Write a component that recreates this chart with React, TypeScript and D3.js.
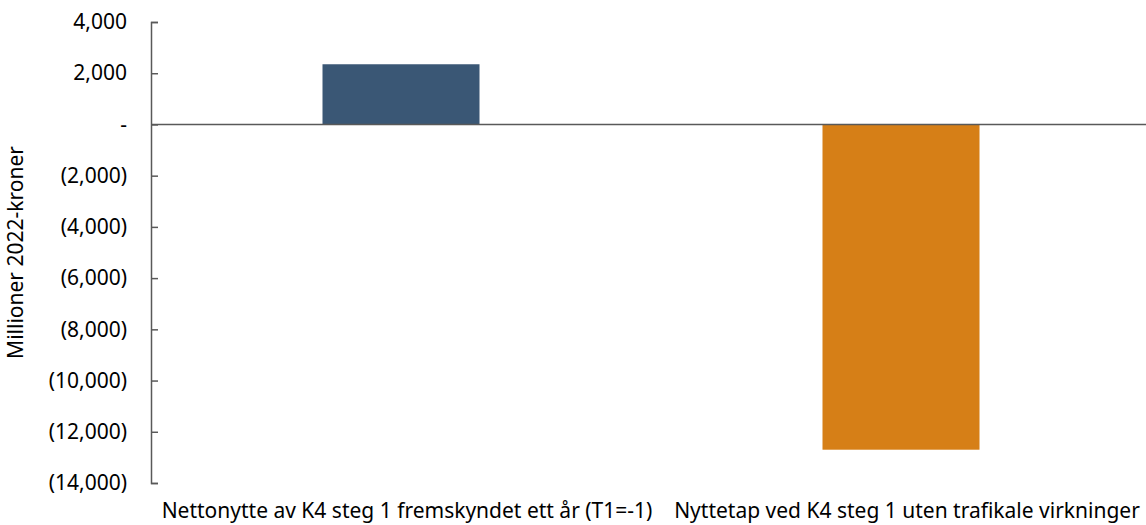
import React, { useRef, useEffect } from "react";
import * as d3 from "d3";

const categories = [
  "Nettonytte av K4 steg 1 fremskyndet ett år (T1=-1)",
  "Nyttetap ved K4 steg 1 uten trafikale virkninger",
];
const values = [2350, -12700];
const barColors = ["#3A5775", "#D67F17"];
const yTicks = [4000, 2000, 0, -2000, -4000, -6000, -8000, -10000, -12000, -14000];
const yLabel = "Millioner 2022-kroner";

const fmt = (v: number) => {
  if (v === 0) return "-";
  const s = d3.format(",")(Math.abs(v));
  return v < 0 ? `(${s})` : s;
};

const App = () => {
  const svgRef = useRef<SVGSVGElement>(null);

  useEffect(() => {
    const svg = d3.select(svgRef.current);
    svg.selectAll("*").remove();

    const width = 1146;
    const height = 525;
    const font = "'Noto Sans', 'Open Sans', sans-serif";
    const axisColor = "#595959";

    const x = d3
      .scaleBand()
      .domain(categories)
      .range([151, 1151])
      .paddingInner(0.686)
      .paddingOuter(0.343);

    const y = d3.scaleLinear().domain([-14000, 4000]).range([483, 22]);

    svg.attr("width", width).attr("height", height);

    // bars
    svg
      .selectAll(".bar")
      .data(values)
      .enter()
      .append("rect")
      .attr("class", "bar")
      .attr("x", (d, i) => x(categories[i])!)
      .attr("y", d => y(Math.max(0, d)))
      .attr("width", x.bandwidth())
      .attr("height", d => Math.abs(y(d) - y(0)))
      .attr("fill", (d, i) => barColors[i]);

    // zero line
    svg
      .append("line")
      .attr("x1", 151)
      .attr("x2", width)
      .attr("y1", y(0))
      .attr("y2", y(0))
      .attr("stroke", axisColor)
      .attr("stroke-width", 1.5);

    // y axis
    const yAxis = svg
      .append("g")
      .attr("transform", "translate(151,0)")
      .call(
        d3
          .axisRight(y)
          .tickValues(yTicks)
          .tickSize(7)
          .tickFormat(d => fmt(+d))
      );
    yAxis.select(".domain").attr("stroke", axisColor).attr("stroke-width", 1.5);
    yAxis.selectAll(".tick line").attr("stroke", axisColor).attr("stroke-width", 1.5);
    yAxis
      .selectAll(".tick text")
      .attr("x", -24)
      .attr("text-anchor", "end")
      .attr("fill", "#000")
      .style("font-family", font)
      .style("font-size", "21px");

    // category labels
    svg
      .selectAll(".cat")
      .data(categories)
      .enter()
      .append("text")
      .attr("x", d => x(d)! + x.bandwidth() / 2 + 6)
      .attr("y", 518)
      .attr("text-anchor", "middle")
      .style("font-family", font)
      .style("font-size", "21px")
      .text(d => d);

    // y label
    svg
      .append("text")
      .attr("transform", `translate(23, ${(y(4000) + y(-14000)) / 2}) rotate(-90)`)
      .attr("text-anchor", "middle")
      .style("font-family", font)
      .style("font-size", "21px")
      .text(yLabel);
  }, []);

  return (
    <svg
      ref={svgRef}
      style={{ position: "absolute", left: 0, top: 0, background: "#fff" }}
    ></svg>
  );
};

export default App;
